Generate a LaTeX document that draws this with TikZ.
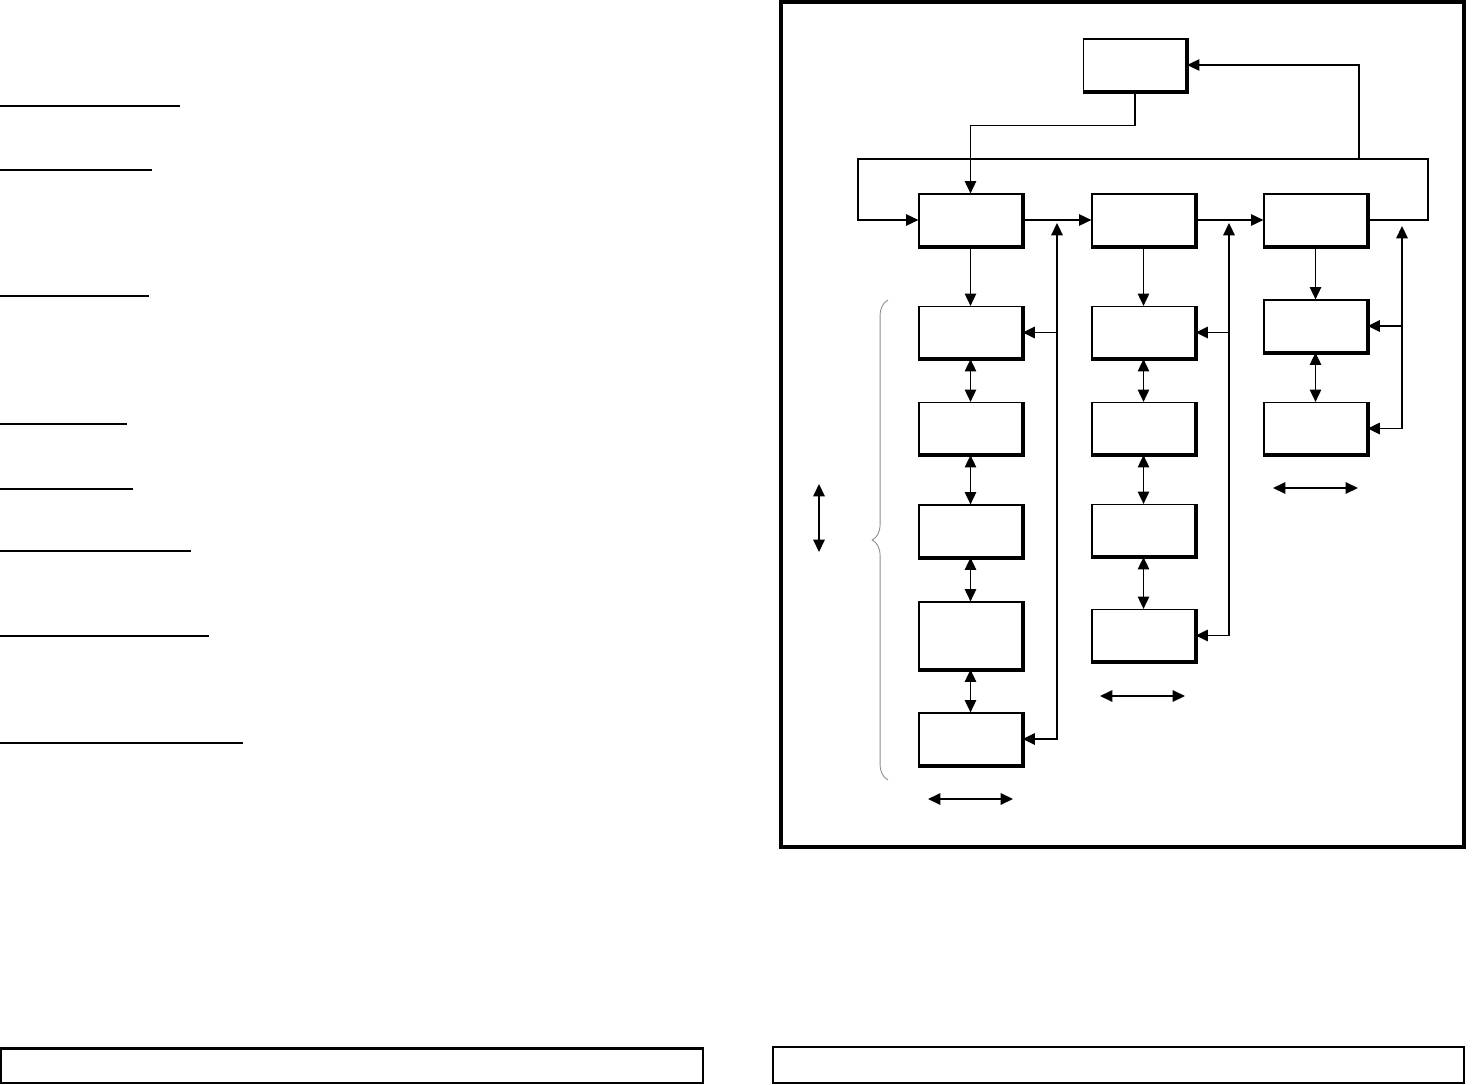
\documentclass[tikz,border=0pt]{standalone}
\usepackage{tikz}
\usetikzlibrary{arrows.meta,positioning,calc,decorations.pathreplacing}

\begin{document}
\begin{tikzpicture}[
    x=0.02cm, y=-0.02cm,
    >={Triangle[length=7pt,width=6.5pt]},
    box/.style={
        draw=black,
        line width=0.7pt,
        inner sep=0pt,
        minimum width=2.06cm,
        minimum height=1.04cm
    },
    tallbox/.style={
        box,
        minimum height=1.34cm
    },
    panel/.style={
        draw=black,
        line width=0.7pt,
        inner sep=0pt
    },
    edgeline/.style={line width=2.2pt},
    arr/.style={->, line width=0.8pt},
    dbl/.style={<->, line width=0.8pt},
    back/.style={line width=1pt},
    frame/.style={draw, line width=1.8pt},
    rule/.style={line width=0.9pt},
    brace/.style={
        draw=black!45,
        line width=0.5pt,
        decorate,
        decoration={brace, amplitude=9pt}
    }
]
\useasboundingbox (0,0) rectangle (1475,1085);

% rules of the left column
\foreach \y/\w in {106/180, 170/152, 296/149, 424/127, 489/133, 551/191, 636/209, 743/243}
    \draw[rule] (0,\y) -- (\w,\y);

% frame round the chart
\draw[frame] (781,2) rectangle (1464,847);

% boxes
\node[box] (top) at (1135,65) {};

\node[box] (m1) at (970.5,220) {};
\node[box] (m2) at (1143.5,220) {};
\node[box] (m3) at (1315.5,220) {};

\node[box] (a1) at (970.5,332.5) {};
\node[box] (b1) at (970.5,428.5) {};
\node[box] (c1) at (970.5,531) {};
\node[tallbox] (d1) at (970.5,635.5) {};
\node[box] (e1) at (970.5,739) {};

\node[box] (a2) at (1143.5,332.5) {};
\node[box] (b2) at (1143.5,428.5) {};
\node[box] (c2) at (1143.5,530.5) {};
\node[box] (d2) at (1143.5,635.5) {};

\node[box] (a3) at (1315.5,326) {};
\node[box] (b3) at (1315.5,428.5) {};

% heavy right and bottom edges
\foreach \n in {top,m1,m2,m3,a1,b1,c1,d1,e1,a2,b2,c2,d2,a3,b3}
    \draw[edgeline] (\n.north east) -- (\n.south east) -- (\n.south west);

% main flow
\draw[arr] (top.south) -- ++(0,34) -| (m1.north);
\draw[arr] (m1) -- (m2);
\draw[arr] (m2) -- (m3);

\coordinate (lpR) at (1428,159);
\coordinate (lpL) at (858,159);
\coordinate (lpUp) at (1359,159);
\draw[arr] (m3.east) -| (lpR) -- (lpL) |- (m1.west);
\draw[arr] (lpUp) |- (top.east);

% columns
\draw[arr] (m1) -- (a1);
\draw[dbl] (a1) -- (b1);
\draw[dbl] (b1) -- (c1);
\draw[dbl] (c1) -- (d1);
\draw[dbl] (d1) -- (e1);

\draw[arr] (m2) -- (a2);
\draw[dbl] (a2) -- (b2);
\draw[dbl] (b2) -- (c2);
\draw[dbl] (c2) -- (d2);

\draw[arr] (m3) -- (a3);
\draw[dbl] (a3) -- (b3);

% return lines
\coordinate (fb1) at (1057,223);
\coordinate (fb2) at (1229,223);
\coordinate (fb3) at (1402,226);

\draw[dbl, back] (e1.east) -| (fb1);
\draw[arr, back] (fb1 |- a1.east) -- (a1.east);
\draw[dbl, back] (d2.east) -| (fb2);
\draw[arr, back] (fb2 |- a2.east) -- (a2.east);
\draw[dbl, back] (b3.east) -| (fb3);
\draw[arr, back] (fb3 |- a3.east) -- (a3.east);

% small double arrows
\coordinate (s1a) at (928,799);
\coordinate (s1b) at (1013,799);
\coordinate (s2a) at (1100,696);
\coordinate (s2b) at (1185,696);
\coordinate (s3a) at (1273,488);
\coordinate (s3b) at (1358,488);
\coordinate (vta) at (819,484);
\coordinate (vtb) at (819,552);
\draw[dbl] (s1a) -- (s1b);
\draw[dbl] (s2a) -- (s2b);
\draw[dbl] (s3a) -- (s3b);
\draw[dbl] (vta) -- (vtb);

% brace
\draw[brace] (888,780) -- (888,300);

% bottom panels
\node[panel, minimum width=14.04cm, minimum height=0.68cm] (capL) at (352,1066) {};
\draw[line width=1.5pt] (capL.north west) -- (capL.north east);
\node[panel, minimum width=13.82cm, minimum height=0.72cm] (capR) at (1118.5,1065) {};

\end{tikzpicture}
\end{document}
